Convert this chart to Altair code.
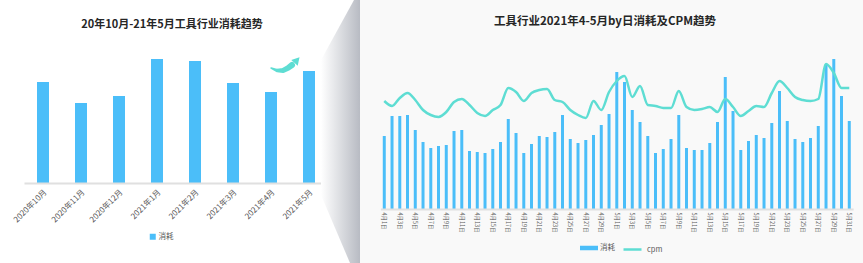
import altair as alt
import pandas as pd

BLUE = "#4BBEF9"
TEAL = "#5EDDD3"
LABEL = "#595959"
FONT = "Noto Sans CJK SC"

# ---- monthly data (left panel) ----
months = ["2020年10月", "2020年11月", "2020年12月", "2021年1月",
          "2021年2月", "2021年3月", "2021年4月", "2021年5月"]
month_spend = [101, 80, 87, 124, 122, 100, 91, 112]

# ---- daily data (right panel) ----
days = [f"4月{d}日" for d in range(1, 31)] + [f"5月{d}日" for d in range(1, 32)]
day_ticks = [d for i, d in enumerate(days) if i % 2 == 0]
daily_spend = [
    73, 93, 93, 94, 79, 67, 61, 63, 64, 78, 79, 58, 57, 56, 60, 67, 90, 76, 56, 65,
    73, 72, 77, 94, 70, 66, 69, 74, 84, 95,
    137, 127, 99, 87, 73, 56, 60, 70, 94, 61, 59, 59, 66, 87, 132, 98, 59, 68, 74, 71,
    86, 118, 88, 70, 67, 71, 83, 144, 150, 113, 88,
]
daily_cpm = [
    108, 103, 111, 116, 109, 99, 94, 92, 97, 107, 110, 104, 96, 93, 99, 104, 121, 117, 108, 116,
    119, 120, 109, 107, 99, 94, 91, 108, 99, 117,
    128, 133, 112, 123, 104, 103, 101, 101, 118, 102, 99, 100, 102, 97, 110, 102, 93, 98, 103, 102,
    116, 128, 121, 112, 109, 108, 110, 145, 136, 121, 121,
]

titles = ["20年10月-21年5月工具行业消耗趋势", "工具行业2021年4-5月by日消耗及CPM趋势"]

# ---- decorations (page pixel coordinates) ----
page_w, page_h = 863, 263
title_pos = [(172, 25), (605, 22)]
arrow_x = [271, 277, 283, 288, 292]
arrow_y = [68, 70.5, 70.5, 68, 65]
arrow_w = [1.5, 3.5, 5, 5.5, 6]
arrow_head = (297, 60)
fold_y = [0, 60, 195, 263]
fold_x = [354, 321, 321, 350]
fold_x2 = [360, 360, 360, 360]
panel_x0 = 360

L_OX, L_OY, L_W, L_H = 24, 40, 304, 143
R_OX, R_OY, R_W, R_H = 380.4, 40, 472.75, 169


def page_scales(ox, oy):
    sx = alt.Scale(domain=[0, page_w], range=[-ox, page_w - ox], zero=False, nice=False)
    sy = alt.Scale(domain=[0, page_h], range=[-oy, page_h - oy], zero=False, nice=False)
    return sx, sy


def title_layer(i, sx, sy, size):
    tdf = pd.DataFrame({"x": [title_pos[i][0]], "y": [title_pos[i][1]], "t": [titles[i]]})
    return alt.Chart(tdf).mark_text(fontSize=size, fontWeight="bold", color="#262626",
                                    font=FONT, align="center", baseline="middle").encode(
        x=alt.X("x:Q", scale=sx, axis=None),
        y=alt.Y("y:Q", scale=sy, axis=None),
        text="t:N",
    )


# ================= LEFT =================
mdf = pd.DataFrame({"month": months, "spend": month_spend, "k": "消耗"})
left_bars = alt.Chart(mdf).mark_bar(size=12).encode(
    x=alt.X("month:N", sort=months, scale=alt.Scale(paddingInner=0, paddingOuter=0),
            axis=alt.Axis(title=None, labelAngle=-45, labelFontSize=8, labelColor=LABEL,
                          labelFont=FONT, ticks=False, domainColor="#e0e0e0", domainWidth=2,
                          labelPadding=5, grid=False, zindex=1)),
    y=alt.Y("spend:Q", scale=alt.Scale(domain=[0, L_H], nice=False), axis=None),
    fill=alt.Fill("k:N", scale=alt.Scale(domain=["消耗"], range=[BLUE]),
                  legend=alt.Legend(title=None, orient="none", legendX=125, legendY=193,
                                    symbolType="square", symbolSize=36, labelFontSize=7.5,
                                    labelColor=LABEL, labelFont=FONT, labelOffset=2, padding=0,
                                    symbolStrokeWidth=0)),
)

lsx, lsy = page_scales(L_OX, L_OY)
adf = pd.DataFrame({"x": arrow_x, "y": arrow_y, "w": arrow_w, "o": list(range(len(arrow_x)))})
arrow_body = alt.Chart(adf).mark_trail(color=TEAL).encode(
    x=alt.X("x:Q", scale=lsx, axis=None),
    y=alt.Y("y:Q", scale=lsy, axis=None),
    size=alt.Size("w:Q", scale=None, legend=None),
    order="o:O",
)
hdf = pd.DataFrame({"x": [arrow_head[0]], "y": [arrow_head[1]]})
arrow_tip = alt.Chart(hdf).mark_point(shape="triangle-up", filled=True, size=75, angle=42,
                                      color=TEAL, opacity=1).encode(
    x=alt.X("x:Q", scale=lsx, axis=None),
    y=alt.Y("y:Q", scale=lsy, axis=None),
)

left = alt.layer(left_bars, arrow_body, arrow_tip, title_layer(0, lsx, lsy, 11)).resolve_scale(
    x="independent", y="independent"
).properties(width=L_W, height=L_H)

# ================= RIGHT =================
rsx, rsy = page_scales(R_OX, R_OY)
page_df = pd.DataFrame({"x0": [0], "x1": [page_w], "y0": [0], "y1": [page_h]})
page_rect = alt.Chart(page_df).mark_rect(fill="white", opacity=0).encode(
    x=alt.X("x0:Q", scale=rsx, axis=None), x2="x1:Q",
    y=alt.Y("y0:Q", scale=rsy, axis=None), y2="y1:Q",
)
panel_df = pd.DataFrame({"x0": [panel_x0], "x1": [page_w], "y0": [0], "y1": [page_h]})
panel_rect = alt.Chart(panel_df).mark_rect(fill="#f9f9f9").encode(
    x=alt.X("x0:Q", scale=rsx, axis=None), x2="x1:Q",
    y=alt.Y("y0:Q", scale=rsy, axis=None), y2="y1:Q",
)
fdf = pd.DataFrame({"y": fold_y, "x": fold_x, "x2": fold_x2})
fold = alt.Chart(fdf).mark_area(
    orient="horizontal",
    color=alt.Gradient(gradient="linear",
                       stops=[alt.GradientStop(color="#ffffff", offset=0),
                              alt.GradientStop(color="#b8bbc3", offset=1)],
                       x1=0, x2=1, y1=0, y2=0),
).encode(
    y=alt.Y("y:Q", scale=rsy, axis=None),
    x=alt.X("x:Q", scale=rsx, axis=None),
    x2="x2:Q",
)

ddf = pd.DataFrame({"day": days, "spend": daily_spend, "cpm": daily_cpm,
                    "k": "消耗", "k2": "cpm"})
right_bars = alt.Chart(ddf).mark_bar(size=3).encode(
    x=alt.X("day:N", sort=days, scale=alt.Scale(paddingInner=0, paddingOuter=0),
            axis=alt.Axis(title=None, values=day_ticks, labelAngle=90, labelFontSize=5.5,
                          labelColor=LABEL, labelFont=FONT, ticks=False,
                          domainColor="#e0e0e0", domainWidth=2, labelPadding=3, grid=False,
                          zindex=1)),
    y=alt.Y("spend:Q", scale=alt.Scale(domain=[0, R_H], nice=False), axis=None),
    fill=alt.Fill("k:N", scale=alt.Scale(domain=["消耗"], range=[BLUE]),
                  legend=alt.Legend(title=None, orient="none", legendX=199.6, legendY=199,
                                    symbolType="M-1,-0.25H1V0.25H-1Z", symbolSize=324,
                                    labelFontSize=7.5, labelColor=LABEL, labelFont=FONT,
                                    labelOffset=2, padding=0, symbolStrokeWidth=0)),
)
right_line = alt.Chart(ddf).mark_line(interpolate="monotone", strokeWidth=2.5).encode(
    x=alt.X("day:N", sort=days, scale=alt.Scale(type="point", padding=0.5), axis=None),
    y=alt.Y("cpm:Q", scale=alt.Scale(domain=[0, R_H], nice=False), axis=None),
    stroke=alt.Stroke("k2:N", scale=alt.Scale(domain=["cpm"], range=[TEAL]),
                      legend=alt.Legend(title=None, orient="none", legendX=241.6, legendY=199,
                                        symbolType="stroke", symbolSize=324,
                                        symbolStrokeWidth=2.5, labelFontSize=7.5,
                                        labelColor=LABEL, labelFont=FONT, labelOffset=4,
                                        padding=0)),
)

right = alt.layer(page_rect, panel_rect, fold, right_bars, right_line,
                  title_layer(1, rsx, rsy, 11.5)).resolve_scale(
    x="independent", y="independent"
).properties(width=R_W, height=R_H)

chart = alt.hconcat(left, right, spacing=R_OX - L_OX - L_W, bounds="flush", padding=0
                    ).resolve_scale(fill="independent", stroke="independent"
                    ).resolve_legend(fill="independent", stroke="independent"
                    ).configure_view(stroke=None)

chart.save("out.html", embed_options={"renderer": "svg", "actions": False})
